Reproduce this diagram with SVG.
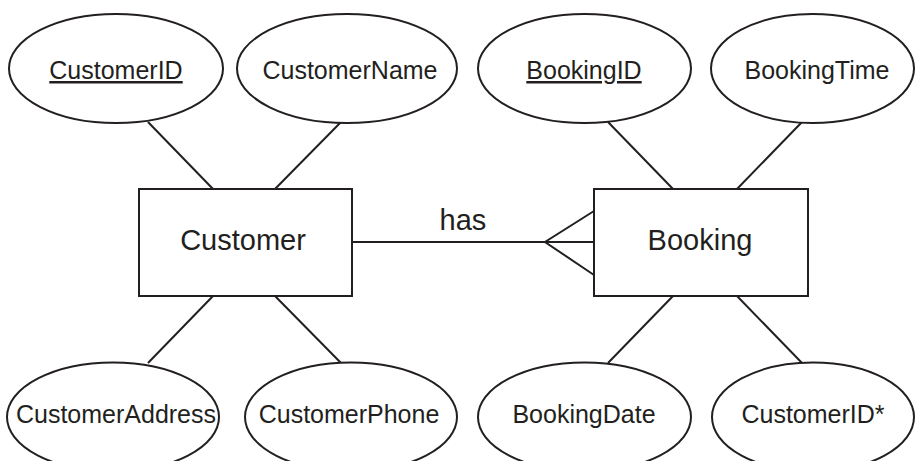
<svg xmlns="http://www.w3.org/2000/svg" width="916" height="461" viewBox="0 0 916 461">
  <style>
    .shape { fill: #ffffff; stroke: #231f20; stroke-width: 2; }
    .link { fill: none; stroke: #231f20; stroke-width: 2; }
    .attr { font-family: "Liberation Sans", Arial, sans-serif; font-size: 25px; fill: #231f20; text-anchor: middle; }
    .ent { font-family: "Liberation Sans", Arial, sans-serif; font-size: 29px; fill: #231f20; text-anchor: middle; }
    .key { text-decoration: underline; }
  </style>

  <!-- connectors -->
  <g id="connectors">
    <line class="link" x1="148" y1="122" x2="213" y2="189"/>
    <line class="link" x1="341" y1="122" x2="275" y2="189"/>
    <line class="link" x1="213" y1="296" x2="148" y2="363"/>
    <line class="link" x1="275" y1="296" x2="341" y2="363"/>
    <line class="link" x1="608" y1="122" x2="673" y2="189"/>
    <line class="link" x1="802" y1="122" x2="737" y2="189"/>
    <line class="link" x1="673" y1="296" x2="608" y2="363"/>
    <line class="link" x1="737" y1="296" x2="802" y2="363"/>
    <!-- one-to-many relationship with crow's foot at Booking -->
    <g id="rel-has">
      <line class="link" x1="352" y1="242" x2="594" y2="242"/>
      <polyline class="link" points="594,211 545,242 594,275"/>
      <text class="ent" x="463" y="230">has</text>
    </g>
  </g>

  <!-- entities -->
  <g id="customer">
    <rect class="shape" x="139" y="189" width="213" height="107"/>
    <text class="ent" x="243" y="250">Customer</text>
  </g>
  <g id="booking">
    <rect class="shape" x="594" y="189" width="214" height="107"/>
    <text class="ent" x="700" y="250">Booking</text>
  </g>

  <!-- Customer attributes -->
  <g id="attr-customer-id">
    <ellipse class="shape" cx="116" cy="68.5" rx="107" ry="54.5"/>
    <text class="attr key" x="116" y="79">CustomerID</text>
  </g>
  <g id="attr-customer-name">
    <ellipse class="shape" cx="347" cy="68.5" rx="110" ry="54.5"/>
    <text class="attr" x="350" y="79">CustomerName</text>
  </g>
  <g id="attr-customer-address">
    <ellipse class="shape" cx="113" cy="417" rx="106" ry="54.5"/>
    <text class="attr" x="116" y="423">CustomerAddress</text>
  </g>
  <g id="attr-customer-phone">
    <ellipse class="shape" cx="351" cy="417" rx="106" ry="54.5"/>
    <text class="attr" x="349" y="423">CustomerPhone</text>
  </g>

  <!-- Booking attributes -->
  <g id="attr-booking-id">
    <ellipse class="shape" cx="584.5" cy="68.5" rx="106.5" ry="54.5"/>
    <text class="attr key" x="584" y="79">BookingID</text>
  </g>
  <g id="attr-booking-time">
    <ellipse class="shape" cx="812.5" cy="68.5" rx="101.5" ry="54.5"/>
    <text class="attr" x="817" y="79">BookingTime</text>
  </g>
  <g id="attr-booking-date">
    <ellipse class="shape" cx="584.5" cy="417" rx="106.5" ry="54.5"/>
    <text class="attr" x="584" y="423">BookingDate</text>
  </g>
  <g id="attr-booking-customer-id">
    <ellipse class="shape" cx="813" cy="417" rx="101" ry="54.5"/>
    <text class="attr" x="813" y="423">CustomerID*</text>
  </g>
</svg>
